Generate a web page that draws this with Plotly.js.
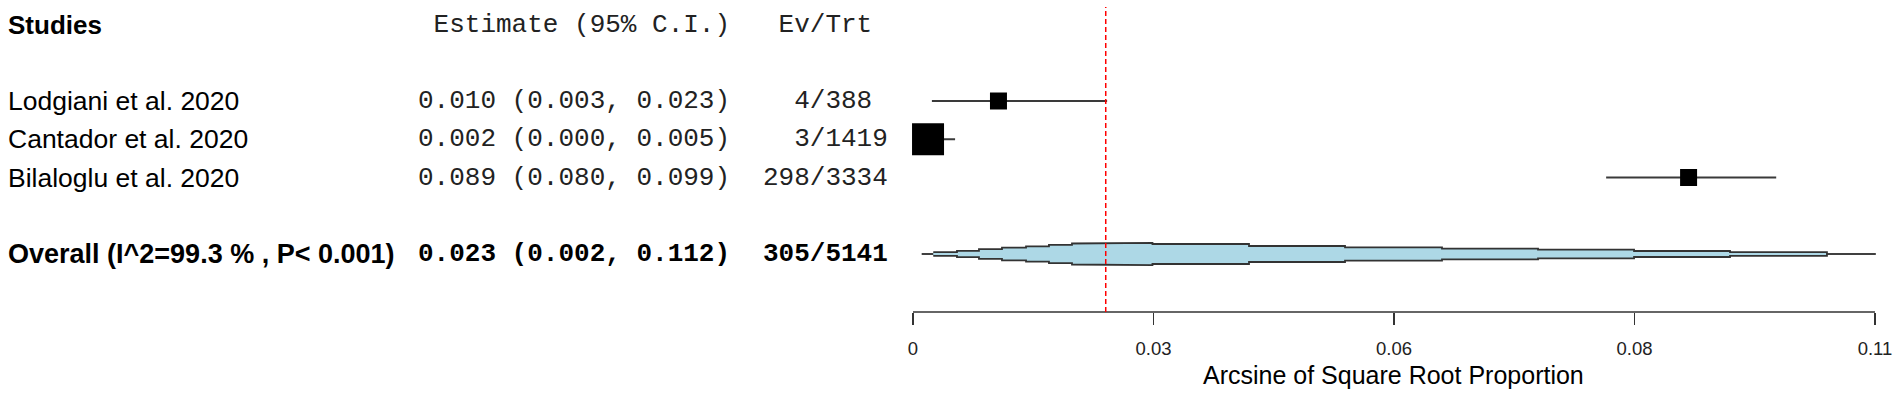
<!DOCTYPE html>
<html>
<head>
<meta charset="utf-8">
<script src="https://cdn.plot.ly/plotly-3.0.1.min.js"></script>
<style>
  html, body { margin: 0; padding: 0; background: #fff; }
  #plot { width: 1897px; height: 397px; }
</style>
</head>
<body>
<div id="plot"></div>
<script>
// studies and their table columns
const studies = ['Lodgiani et al. 2020', 'Cantador et al. 2020', 'Bilaloglu et al. 2020'];
const estText = ['0.010 (0.003, 0.023)', '0.002 (0.000, 0.005)', '0.089 (0.080, 0.099)'];
const evTrt = ['4/388', '3/1419', '298/3334'];

// plotted positions
const est = [0.00995, 0.00175, 0.0903];
const ciLo = [0.0022, 0.0, 0.0807];
const ciHi = [0.0226, 0.0049, 0.1005];

// overall row
const overallLabel = 'Overall (I^2=99.3 % , P< 0.001)';
const overallEstText = '0.023 (0.002, 0.112)';
const overallEvTrt = '305/5141';
const overallLine = 0.02244;
const overallLo = 0.00101;
const overallHi = 0.1121;

// stepped summary shape: segment edges and half heights (in rows)
const stepEdges = [0.00236, 0.00512, 0.00768, 0.01036, 0.01316, 0.01583, 0.01851, 0.02107,
                   0.02788, 0.03912, 0.05030, 0.06159, 0.07277, 0.08395, 0.09512, 0.10641];
const stepHalf = [0.048, 0.082, 0.127, 0.166, 0.200, 0.239, 0.275, 0.293,
                  0.261, 0.209, 0.174, 0.141, 0.114, 0.078, 0.048];

// axis
const tickVals = [0, 0.028, 0.056, 0.084, 0.112];
const tickLabels = ['0', '0.03', '0.06', '0.08', '0.11'];
const axisTitle = 'Arcsine of Square Root Proportion';

const W = 1897, H = 397;
const X0 = 913, K = 8589;          // pixel of x = 0, pixels per unit
const ROW0 = 24.5, ROWH = 38.25;   // pixel of header row, row height
const xRange = [-0.0005, 0.1135];
const studyRows = [2, 3, 4];
const overallRow = 6;
const axisY = 1 - 312 / H;

const px = x => x / W;
const sans = 'Arial, "Liberation Sans", sans-serif';
const mono = '"Courier New", "Liberation Mono", monospace';

// CI whiskers
const ciX = [], ciY = [];
studies.forEach((s, i) => {
    ciX.push(ciLo[i], ciHi[i], null);
    ciY.push(studyRows[i], studyRows[i], null);
});

// stepped polygon
const polyX = [], polyY = [];
for (let i = 0; i < stepHalf.length; i++) {
    polyX.push(stepEdges[i], stepEdges[i + 1]);
    polyY.push(overallRow - stepHalf[i], overallRow - stepHalf[i]);
}
for (let i = stepHalf.length - 1; i >= 0; i--) {
    polyX.push(stepEdges[i + 1], stepEdges[i]);
    polyY.push(overallRow + stepHalf[i], overallRow + stepHalf[i]);
}

const traces = [
    {
        x: ciX, y: ciY, type: 'scatter', mode: 'lines',
        line: { color: '#3a3a3a', width: 2 }, hoverinfo: 'skip'
    },
    {
        x: est, y: studyRows, type: 'scatter', mode: 'markers', cliponaxis: false,
        opacity: 1,
        marker: { symbol: 'square', color: 'black', opacity: 1, size: [17, 32, 17], line: { width: 0 } }
    },
    {
        x: [overallLo, overallHi], y: [overallRow, overallRow], type: 'scatter', mode: 'lines',
        line: { color: '#000', width: 1.5 }
    },
    {
        x: polyX, y: polyY, type: 'scatter', mode: 'lines', fill: 'toself',
        fillcolor: '#ADD8E6', line: { color: '#333', width: 1.8 }
    }
];

function note(text, xPix, row, font) {
    return {
        text: text, xref: 'paper', yref: 'y', x: px(xPix), y: row,
        xanchor: 'left', yanchor: 'middle', showarrow: false,
        font: font
    };
}

const headFont = { family: sans, size: 26, color: '#000' };
const nameFont = { family: sans, size: 26.5, color: '#000' };
const boldFont = { family: sans, size: 27, color: '#000' };
const monoFont = { family: mono, size: 26, color: '#222' };
const monoBold = { family: mono, size: 26, color: '#000' };
const padEv = s => (s.length >= 8 ? s : '\u00a0\u00a0' + s);

const annotations = [
    note('<b>Studies</b>', 6, 0, headFont),
    note('\u00a0Estimate (95% C.I.)', 416, 0, monoFont),
    note('\u00a0Ev/Trt', 761, 0, monoFont)
];
studies.forEach((s, i) => {
    annotations.push(note(s, 6, studyRows[i], nameFont));
    annotations.push(note(estText[i], 416, studyRows[i], monoFont));
    annotations.push(note(padEv(evTrt[i]), 761, studyRows[i], monoFont));
});
annotations.push(note('<b>' + overallLabel + '</b>', 6, overallRow, boldFont));
annotations.push(note('<b>' + overallEstText + '</b>', 416, overallRow, monoBold));
annotations.push(note('<b>' + overallEvTrt + '</b>', 761, overallRow, monoBold));
annotations.push({
    text: axisTitle, xref: 'paper', yref: 'paper',
    x: px(X0 + K * (tickVals[0] + tickVals[tickVals.length - 1]) / 2), y: 1 - 375 / H,
    xanchor: 'center', yanchor: 'middle', showarrow: false,
    font: { family: sans, size: 25, color: '#000' }
});

const layout = {
    width: W, height: H,
    margin: { t: 0, b: 0, l: 0, r: 0, pad: 0 },
    paper_bgcolor: '#fff', plot_bgcolor: '#fff',
    showlegend: false,
    xaxis: {
        range: xRange,
        domain: [px(X0 + K * xRange[0]), px(X0 + K * xRange[1])],
        anchor: 'free', position: axisY,
        showgrid: false, zeroline: false, showline: false,
        ticks: 'outside', ticklen: 12, tickwidth: 1.5, tickcolor: '#333',
        tickvals: tickVals, ticktext: tickLabels,
        ticklabelstandoff: 8,
        tickfont: { family: sans, size: 18.5, color: '#222' }
    },
    yaxis: {
        range: [(H - ROW0) / ROWH, -ROW0 / ROWH],
        domain: [0, 1], visible: false, fixedrange: true
    },
    shapes: [
        {
            type: 'line', xref: 'x', yref: 'paper',
            x0: tickVals[0], x1: tickVals[tickVals.length - 1], y0: axisY, y1: axisY,
            line: { color: '#333', width: 1.5 }
        },
        {
            type: 'line', xref: 'x', yref: 'paper',
            x0: overallLine, x1: overallLine, y0: axisY, y1: 1 - 7 / H,
            line: { color: '#ff0000', width: 1.5, dash: '5px,3px' }
        }
    ],
    annotations: annotations
};

Plotly.newPlot('plot', traces, layout, { displayModeBar: false, staticPlot: true });
</script>
</body>
</html>
